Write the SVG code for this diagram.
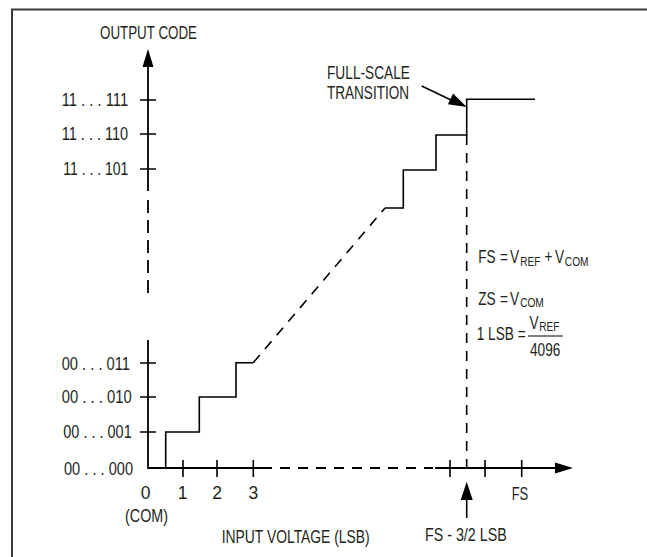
<svg xmlns="http://www.w3.org/2000/svg" width="647" height="557" viewBox="0 0 647 557">
<style>
.t{font-family:"Liberation Sans Narrow","Liberation Sans",Arial,sans-serif;font-size:17.5px;fill:#231f20}
.s{font-size:13px}
.ln{stroke:#000;stroke-width:1.6;fill:none}
.ax{stroke:#000;stroke-width:1.8;fill:none}
.d1{stroke-dasharray:13 7}
.d2{stroke-dasharray:10 8}
.ah{fill:#000}
</style>
<rect width="647" height="557" fill="#fff"/>
<g id="frame">
<path d="M11 9.5H647M12 9V557" stroke="#3a3a3a" stroke-width="2" fill="none"/>
</g>
<g id="axes">
<path class="ax" d="M148 64V191"/>
<path class="ax d1" d="M148 200V293"/>
<path class="ax" d="M148 340V468H272"/>
<path class="ax d2" d="M280 468H433"/>
<path class="ax" d="M435 468H558"/>
<polygon class="ah" points="148,49 142.5,67 153.5,67"/>
<polygon class="ah" points="573,468 555,462.5 555,473.5"/>
<path class="ln" d="M140 100H156M140 134H156M140 169H156M140 363H156M140 397H156M140 432H156"/>
<path class="ln" d="M183 460V477M217 460V477M253.3 460V477M450 460V477M485 460V477M521.7 460V477"/>
</g>
<g id="connectors">
<path class="ln" d="M148 468H165.7V432H199.3V397H236V362.7H253.3"/>
<path class="ln d2" d="M253.3 362.7L385 208"/>
<path class="ln" d="M385 208H403.3V170H436V135H466.7V99.3H535"/>
<path class="ln d2" d="M466.7 135V468"/>
<path class="ln" d="M421.7 86L452 100.5"/>
<polygon class="ah" points="466.7,107 447.9,104.3 453.1,93.5"/>
<path class="ln" d="M466.7 498V518"/>
<polygon class="ah" points="466.7,481.7 460.7,500 472.7,500"/>
</g>
<g id="labels-y">
<text class="t" x="100" y="39" textLength="97" lengthAdjust="spacingAndGlyphs">OUTPUT CODE</text>
<text class="t" x="61.7" y="106" textLength="66.5" lengthAdjust="spacingAndGlyphs">11 . . . 111</text>
<text class="t" x="61.7" y="140" textLength="66.5" lengthAdjust="spacingAndGlyphs">11 . . . 110</text>
<text class="t" x="63.3" y="175" textLength="65" lengthAdjust="spacingAndGlyphs">11 . . . 101</text>
<text class="t" x="61.7" y="369.5" textLength="68.3" lengthAdjust="spacingAndGlyphs">00 . . . 011</text>
<text class="t" x="61.7" y="403" textLength="70" lengthAdjust="spacingAndGlyphs">00 . . . 010</text>
<text class="t" x="63.3" y="438" textLength="68.4" lengthAdjust="spacingAndGlyphs">00 . . . 001</text>
<text class="t" x="64" y="474.5" textLength="69" lengthAdjust="spacingAndGlyphs">00 . . . 000</text>
</g>
<g id="labels-x">
<text class="t" x="145.7" y="499" text-anchor="middle">0</text>
<text class="t" x="182.7" y="499" text-anchor="middle">1</text>
<text class="t" x="217" y="499" text-anchor="middle">2</text>
<text class="t" x="253.3" y="499" text-anchor="middle">3</text>
<text class="t" x="125" y="522" textLength="43" lengthAdjust="spacingAndGlyphs">(COM)</text>
<text class="t" x="221.7" y="543" textLength="148" lengthAdjust="spacingAndGlyphs">INPUT VOLTAGE (LSB)</text>
<text class="t" x="511.7" y="500" textLength="16.6" lengthAdjust="spacingAndGlyphs">FS</text>
<text class="t" x="425" y="541" textLength="81.7" lengthAdjust="spacingAndGlyphs">FS - 3/2 LSB</text>
</g>
<g id="label-fullscale">
<text class="t" x="327" y="79.3" textLength="83" lengthAdjust="spacingAndGlyphs">FULL-SCALE</text>
<text class="t" x="327" y="99.3" textLength="82" lengthAdjust="spacingAndGlyphs">TRANSITION</text>
</g>
<g id="formulas">
<g transform="scale(0.78,1)">
<text class="t" y="263.3"><tspan x="613.2">FS</tspan><tspan x="641">=</tspan><tspan x="653.8">V</tspan><tspan class="s" x="666.9" y="266">REF</tspan><tspan x="698.1" y="263.3">+</tspan><tspan x="711.5">V</tspan><tspan class="s" x="724.2" y="266">COM</tspan></text>
<text class="t" y="305"><tspan x="613.2">ZS</tspan><tspan x="641">=</tspan><tspan x="653.8">V</tspan><tspan class="s" x="666.9" y="307.5">COM</tspan></text>
<text class="t" x="611.2" y="340">1 LSB =</text>
<text class="t" y="329.5"><tspan x="678.8">V</tspan><tspan class="s" x="691.2" y="331.5">REF</tspan></text>
<text class="t" x="679.5" y="356">4096</text>
</g>
<path d="M528 336H563" stroke="#000" stroke-width="1"/>
</g>
</svg>
